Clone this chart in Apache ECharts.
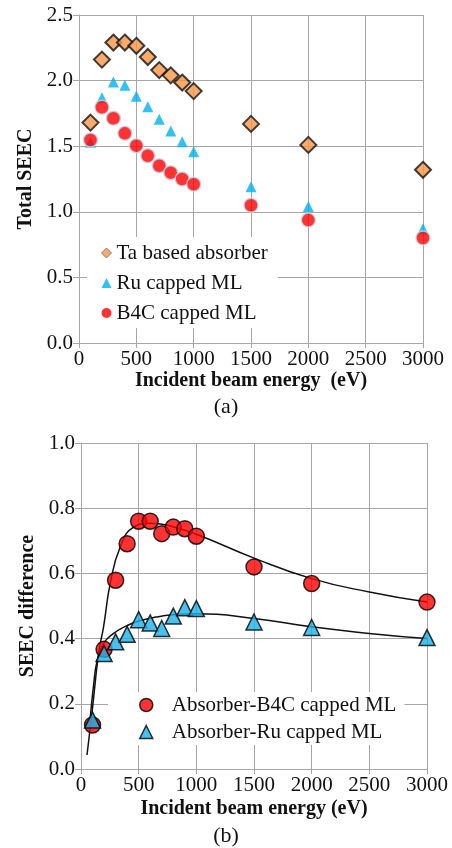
<!DOCTYPE html>
<html>
<head>
<meta charset="utf-8">
<script src="https://cdn.jsdelivr.net/npm/echarts@6/dist/echarts.min.js"></script>
<style>html,body{margin:0;padding:0;background:#fff}#c{width:452px;height:848px}</style>
</head>
<body>
<div id="c"></div>
<script>
// Data
var energy = [100, 200, 300, 400, 500, 600, 700, 800, 900, 1000, 1500, 2000, 3000];
var taSEEC  = [1.68, 2.16, 2.29, 2.29, 2.265, 2.18, 2.08, 2.04, 1.985, 1.92, 1.67, 1.51, 1.32];
var ruSEEC  = [1.53, 1.87, 1.99, 1.965, 1.88, 1.80, 1.705, 1.616, 1.534, 1.458, 1.19, 1.04, 0.87];
var b4cSEEC = [1.547, 1.797, 1.713, 1.598, 1.504, 1.427, 1.351, 1.298, 1.25, 1.21, 1.05, 0.937, 0.80];

var diffB4C = [0.135, 0.367, 0.579, 0.691, 0.760, 0.760, 0.722, 0.742, 0.737, 0.714, 0.62, 0.569, 0.512];
var diffRu  = [0.15, 0.354, 0.39, 0.413, 0.458, 0.448, 0.431, 0.469, 0.495, 0.492, 0.451, 0.434, 0.403];

var fitEnergyB4C = [52, 95, 153, 196, 254, 341, 456, 600, 750, 1000, 1500, 2000, 2500, 3000];
var fitB4C       = [0.043, 0.171, 0.355, 0.437, 0.57, 0.682, 0.742, 0.754, 0.748, 0.72, 0.647, 0.584, 0.543, 0.512];
var fitEnergyRu  = [81, 110, 139, 196, 283, 400, 500, 650, 800, 1000, 1500, 2000, 2500, 3000];
var fitRu        = [0.16, 0.26, 0.33, 0.385, 0.416, 0.44, 0.454, 0.466, 0.473, 0.476, 0.462, 0.436, 0.416, 0.40];

var FONT = 'Liberation Serif';
var GRID = '#a6a6a6';
var TXT = '#111111';

function pairs(xs, ys) { return xs.map(function (x, i) { return [x, ys[i]]; }); }

var RICH = { s: { fontFamily: FONT, fontSize: 21, color: TXT, lineHeight: 24 } };

function xAx(idx, name, gap) {
  return {
    gridIndex: idx, type: 'value', min: 0, max: 3000, interval: 500,
    name: name, nameLocation: 'middle', nameGap: gap,
    nameTextStyle: { fontFamily: FONT, fontSize: 20, fontWeight: 'bold', color: TXT },
    axisLine: { show: true, lineStyle: { color: GRID, width: 1 } },
    axisTick: { show: true, length: 5, lineStyle: { color: GRID } },
    axisLabel: { fontFamily: FONT, fontSize: 21, color: TXT, margin: 4, rich: RICH,
      formatter: function (v) { return '{s|' + String(v) + '}'; } },
    splitLine: { show: true, lineStyle: { color: GRID, width: 1 } }
  };
}
function yAx(idx, name, max, interval, gap) {
  return {
    gridIndex: idx, type: 'value', min: 0, max: max, interval: interval,
    name: name, nameLocation: 'middle', nameGap: gap,
    nameTextStyle: { fontFamily: FONT, fontSize: 20, fontWeight: 'bold', color: TXT },
    axisLine: { show: true, lineStyle: { color: GRID, width: 1 } },
    axisTick: { show: true, length: 6, lineStyle: { color: GRID } },
    axisLabel: { fontFamily: FONT, fontSize: 21, color: TXT, margin: 6, rich: RICH,
      formatter: function (v) { return '{s|' + v.toFixed(1) + '}'; } },
    splitLine: { show: true, lineStyle: { color: GRID, width: 1 } }
  };
}

var chart = echarts.init(document.getElementById('c'), null, { renderer: 'canvas' });
chart.setOption({
  animation: false,
  backgroundColor: '#fff',
  textStyle: { fontFamily: FONT },
  grid: [
    { left: 79, top: 15, width: 344, height: 328 },
    { left: 81, top: 443, width: 346, height: 326 }
  ],
  xAxis: [xAx(0, 'Incident beam energy  (eV)', 28), xAx(1, 'Incident beam energy (eV)', 30)],
  yAxis: [yAx(0, 'Total SEEC', 2.5, 0.5, 43), yAx(1, 'SEEC difference', 1.0, 0.2, 43)],
  legend: [
    {
      orient: 'vertical', left: 87, top: 237, padding: [4, 10, 3, 14],
      backgroundColor: '#fff', itemGap: 6, itemWidth: 10, itemHeight: 10,
      formatter: function (n) { return '{s|' + n + '}'; },
      textStyle: { fontFamily: FONT, fontSize: 21, color: TXT, lineHeight: 24, rich: RICH },
      data: [
        { name: 'Ta based absorber', icon: 'diamond', itemStyle: { borderColor: '#666', borderWidth: 1 } },
        { name: 'Ru capped ML', icon: 'triangle', itemStyle: { borderWidth: 0 } },
        { name: 'B4C capped ML', icon: 'circle', itemStyle: { borderWidth: 0 } }
      ]
    },
    {
      orient: 'vertical', left: 108, top: 692, padding: [1, 8, 1, 31],
      backgroundColor: '#fff', itemGap: 3, itemWidth: 13, itemHeight: 13,
      formatter: function (n) { return '{s|' + n + '}'; },
      textStyle: { fontFamily: FONT, fontSize: 21, color: TXT, lineHeight: 24, padding: [0, 0, 0, 14], rich: RICH },
      data: [
        { name: 'Absorber-B4C capped ML', icon: 'circle', itemStyle: { borderColor: '#000', borderWidth: 1.5 } },
        { name: 'Absorber-Ru capped ML', icon: 'triangle', itemStyle: { borderColor: '#000', borderWidth: 1.5 } }
      ]
    }
  ],
  graphic: [
    { type: 'text', left: 'center', top: 396, style: { text: '(a)', fontFamily: FONT, fontSize: 22, fill: TXT } },
    { type: 'text', left: 'center', top: 825, style: { text: '(b)', fontFamily: FONT, fontSize: 22, fill: TXT } }
  ],
  series: [
    {
      name: 'Ta based absorber', type: 'scatter', xAxisIndex: 0, yAxisIndex: 0,
      symbol: 'diamond', symbolSize: 16, data: pairs(energy, taSEEC),
      itemStyle: { color: '#F79646', borderColor: '#111', borderWidth: 2 }, z: 3
    },
    {
      name: 'Ru capped ML', type: 'scatter', xAxisIndex: 0, yAxisIndex: 0,
      symbol: 'triangle', symbolSize: 11, data: pairs(energy, ruSEEC),
      itemStyle: { color: '#00B0F0' }, z: 4
    },
    {
      name: 'B4C capped ML', type: 'scatter', xAxisIndex: 0, yAxisIndex: 0,
      symbol: 'circle', symbolSize: 14, data: pairs(energy, b4cSEEC),
      itemStyle: { color: '#FF0000', borderColor: '#bcdcee', borderWidth: 1.5 }, z: 5
    },
    {
      name: 'fitB4C', type: 'line', xAxisIndex: 1, yAxisIndex: 1, smooth: 0.5,
      showSymbol: false, symbol: 'none', data: pairs(fitEnergyB4C, fitB4C),
      lineStyle: { color: '#111', width: 1.5 }, z: 2, silent: true
    },
    {
      name: 'fitRu', type: 'line', xAxisIndex: 1, yAxisIndex: 1, smooth: 0.5,
      showSymbol: false, symbol: 'none', data: pairs(fitEnergyRu, fitRu),
      lineStyle: { color: '#111', width: 1.5 }, z: 2, silent: true
    },
    {
      name: 'Absorber-B4C capped ML', type: 'scatter', xAxisIndex: 1, yAxisIndex: 1,
      symbol: 'circle', symbolSize: 16, data: pairs(energy, diffB4C),
      itemStyle: { color: '#FF0000', borderColor: '#000', borderWidth: 1.5 }, z: 4
    },
    {
      name: 'Absorber-Ru capped ML', type: 'scatter', xAxisIndex: 1, yAxisIndex: 1,
      symbol: 'triangle', symbolSize: 16, data: pairs(energy, diffRu),
      itemStyle: { color: '#1AB2EA', borderColor: '#000', borderWidth: 1.5 }, z: 5
    }
  ]
});
</script>
</body>
</html>
